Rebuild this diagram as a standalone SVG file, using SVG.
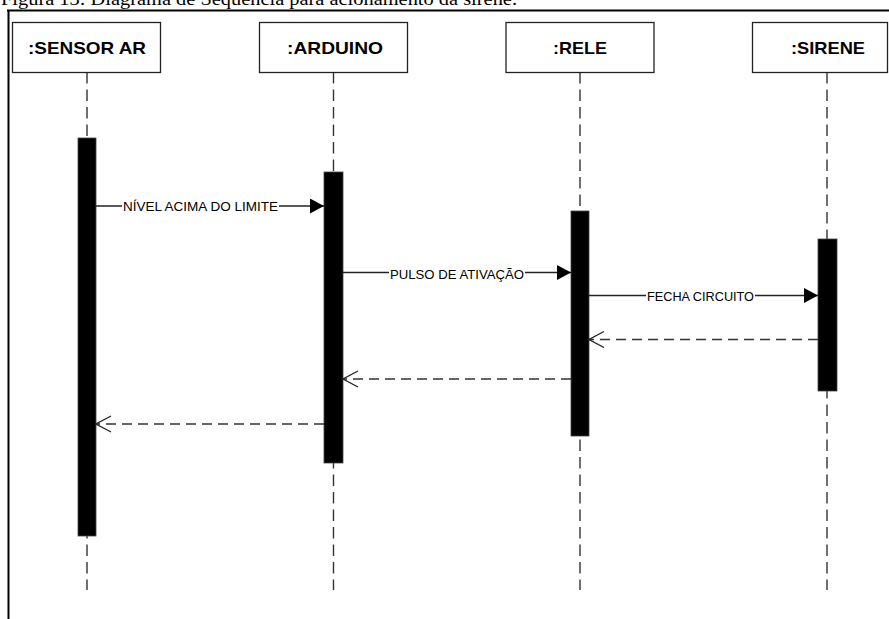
<svg xmlns="http://www.w3.org/2000/svg" width="889" height="619" viewBox="0 0 889 619">
<style>
.box{fill:#fff;stroke:#222;stroke-width:1.3}
.lbl{font-family:"Liberation Sans",Arial,sans-serif;font-weight:bold;font-size:17px;fill:#000;text-anchor:middle}
.life{stroke:#333;stroke-width:1.4;stroke-dasharray:11.5 6;fill:none}
.bar{fill:#000;stroke:#444;stroke-width:0.8}
.msg{stroke:#222;stroke-width:1.3;fill:none}
.ret{stroke:#333;stroke-width:1.3;fill:none;stroke-dasharray:10 6}
.mt{font-family:"Liberation Sans",Arial,sans-serif;font-size:13px;fill:#000;text-anchor:middle}
.bg{fill:#fff}
</style>
<defs>
<marker id="filled" markerUnits="userSpaceOnUse" markerWidth="15" markerHeight="16" refX="14" refY="7.5" orient="auto">
<path d="M0,0 L14,7.5 L0,15 z" fill="#000"/>
</marker>
<marker id="open" markerUnits="userSpaceOnUse" markerWidth="17" markerHeight="18" refX="15.5" refY="8.5" orient="auto">
<path d="M0.5,0.5 L15.5,8.5 L0.5,16.5" fill="none" stroke="#222" stroke-width="1.3"/>
</marker>
</defs>
<rect width="889" height="619" fill="#fff"/>
<text x="1" y="5" font-family="'Liberation Serif','Times New Roman',serif" font-size="19" textLength="516" lengthAdjust="spacingAndGlyphs" fill="#000">Figura 13: Diagrama de Sequência para acionamento da sirene.</text>
<g id="frame">
<line x1="7" y1="10.5" x2="889" y2="10.5" stroke="#000" stroke-width="2"/>
<line x1="8.5" y1="10" x2="8.5" y2="619" stroke="#000" stroke-width="2"/>
</g>
<g id="lifelines">
<line class="life" x1="87" y1="72" x2="87" y2="590"/>
<line class="life" x1="333.5" y1="72" x2="333.5" y2="590"/>
<line class="life" x1="580" y1="72" x2="580" y2="590"/>
<line class="life" x1="827" y1="72" x2="827" y2="590"/>
</g>
<g id="sensor">
<rect class="box" x="12.5" y="22.5" width="148" height="50"/>
<text class="lbl" x="87" y="54" textLength="118" lengthAdjust="spacingAndGlyphs">:SENSOR AR</text>
<rect class="bar" x="78" y="138" width="18" height="398"/>
</g>
<g id="arduino">
<rect class="box" x="259.5" y="22.5" width="148" height="50"/>
<text class="lbl" x="335" y="54" textLength="96" lengthAdjust="spacingAndGlyphs">:ARDUINO</text>
<rect class="bar" x="324" y="172" width="19" height="291"/>
</g>
<g id="rele">
<rect class="box" x="506" y="22.5" width="148" height="50"/>
<text class="lbl" x="580" y="54" textLength="54" lengthAdjust="spacingAndGlyphs">:RELE</text>
<rect class="bar" x="571" y="211" width="18" height="225"/>
</g>
<g id="sirene">
<rect class="box" x="752.5" y="22.5" width="135" height="50"/>
<text class="lbl" x="828" y="54" textLength="74" lengthAdjust="spacingAndGlyphs">:SIRENE</text>
<rect class="bar" x="818" y="239" width="19" height="152"/>
</g>
<g id="connectors">
<line class="msg" x1="96" y1="206" x2="324" y2="206" marker-end="url(#filled)"/>
<rect class="bg" x="122" y="198" width="157" height="16"/>
<text class="mt" x="200.5" y="211" textLength="155" lengthAdjust="spacingAndGlyphs">NÍVEL ACIMA DO LIMITE</text>
<line class="msg" x1="343" y1="272.5" x2="571" y2="272.5" marker-end="url(#filled)"/>
<rect class="bg" x="389" y="264" width="136" height="17"/>
<text class="mt" x="457" y="279" textLength="134" lengthAdjust="spacingAndGlyphs">PULSO DE ATIVAÇÃO</text>
<line class="msg" x1="589" y1="295.5" x2="818" y2="295.5" marker-end="url(#filled)"/>
<rect class="bg" x="646" y="288" width="109" height="16"/>
<text class="mt" x="700.5" y="301" textLength="107" lengthAdjust="spacingAndGlyphs">FECHA CIRCUITO</text>
<line class="ret" x1="818" y1="339.5" x2="589" y2="339.5" marker-end="url(#open)"/>
<line class="ret" x1="571" y1="379" x2="343" y2="379" marker-end="url(#open)"/>
<line class="ret" x1="324" y1="424" x2="96" y2="424" marker-end="url(#open)"/>
</g>
</svg>
